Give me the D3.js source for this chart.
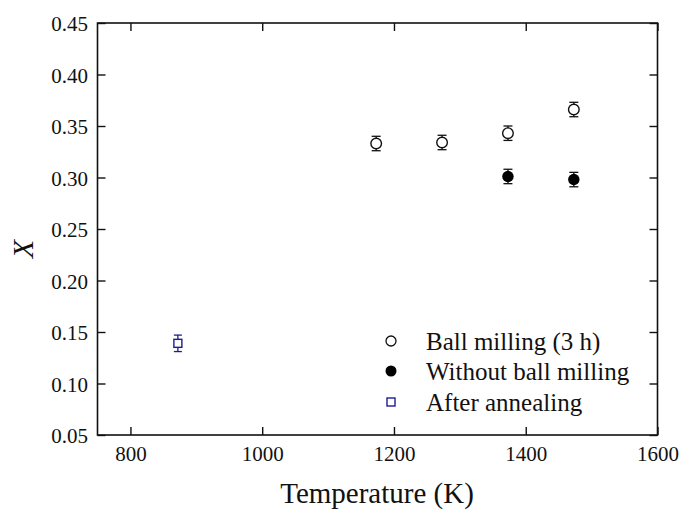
<!DOCTYPE html>
<html>
<head>
<meta charset="utf-8">
<script src="https://cdn.jsdelivr.net/npm/d3@7/dist/d3.min.js"></script>
<style>
  html, body { margin: 0; padding: 0; background: #fff; }
  svg { display: block; }
  svg text { fill: #111; }
</style>
</head>
<body>
<svg id="chart" width="681" height="511"></svg>
<script>
// Ball milling (3 h)
const milledTemp = [1173, 1273, 1373, 1473];
const milledX    = [0.333, 0.334, 0.343, 0.366];
const milledErr  = [0.007, 0.007, 0.007, 0.007];

// Without ball milling
const unmilledTemp = [1373, 1473];
const unmilledX    = [0.301, 0.298];
const unmilledErr  = [0.007, 0.007];

// After annealing
const annealTemp = [872];
const annealX    = [0.139];
const annealErr  = [0.008];

const xTicks = [800, 1000, 1200, 1400, 1600];
const yTicks = [0.05, 0.10, 0.15, 0.20, 0.25, 0.30, 0.35, 0.40, 0.45];
const legendLabels = ["Ball milling (3 h)", "Without ball milling", "After annealing"];

const serif = "Liberation Serif";
const svg = d3.select("#chart").attr("font-family", serif);
const plotL = 97.5, plotR = 657.5, plotT = 23, plotB = 435;

const x = d3.scaleLinear().domain([750, 1600]).range([plotL, plotR]);
const y = d3.scaleLinear().domain([0.05, 0.45]).range([plotB, plotT]);

const tickLen = 8;

// inward ticks on all four sides
function styleAxis(g, hideLabels) {
  g.attr("font-family", serif).attr("font-size", 21);
  g.select(".domain").remove();
  g.selectAll(".tick line").attr("stroke", "#111").attr("stroke-width", 1.4);
  g.selectAll(".tick text").attr("fill", "#111");
  if (hideLabels) g.selectAll(".tick text").remove();
}

svg.append("g").attr("transform", `translate(0,${plotB})`)
  .call(d3.axisBottom(x).tickValues(xTicks).tickFormat(d3.format("d")).tickSizeInner(-tickLen).tickSizeOuter(0).tickPadding(11))
  .call(g => styleAxis(g, false));

svg.append("g").attr("transform", `translate(0,${plotT})`)
  .call(d3.axisTop(x).tickValues(xTicks).tickSizeInner(-tickLen).tickSizeOuter(0))
  .call(g => styleAxis(g, true));

svg.append("g").attr("transform", `translate(${plotL},0)`)
  .call(d3.axisLeft(y).tickValues(yTicks).tickFormat(d3.format(".2f")).tickSizeInner(-tickLen).tickSizeOuter(0).tickPadding(9.5))
  .call(g => styleAxis(g, false))
  .call(g => g.selectAll(".tick text").attr("dy", "0.38em"));

svg.append("g").attr("transform", `translate(${plotR},0)`)
  .call(d3.axisRight(y).tickValues(yTicks).tickSizeInner(-tickLen).tickSizeOuter(0))
  .call(g => styleAxis(g, true));

// frame
svg.append("rect")
  .attr("x", plotL).attr("y", plotT)
  .attr("width", plotR - plotL).attr("height", plotB - plotT)
  .attr("fill", "none").attr("stroke", "#111").attr("stroke-width", 1.6);

// error bars with caps
function errorBars(temps, vals, errs, color, capW) {
  const g = svg.append("g").attr("stroke", color).attr("stroke-width", 1.3);
  temps.forEach((t, i) => {
    const cx = x(t), y0 = y(vals[i] - errs[i]), y1 = y(vals[i] + errs[i]);
    g.append("line").attr("x1", cx).attr("x2", cx).attr("y1", y0).attr("y2", y1);
    g.append("line").attr("x1", cx - capW / 2).attr("x2", cx + capW / 2).attr("y1", y0).attr("y2", y0);
    g.append("line").attr("x1", cx - capW / 2).attr("x2", cx + capW / 2).attr("y1", y1).attr("y2", y1);
  });
}

errorBars(milledTemp, milledX, milledErr, "#111", 9);
errorBars(unmilledTemp, unmilledX, unmilledErr, "#111", 9);
errorBars(annealTemp, annealX, annealErr, "#1c1c96", 8);

const r = 5.3;
svg.append("g").selectAll("circle").data(milledTemp).join("circle")
  .attr("cx", d => x(d)).attr("cy", (d, i) => y(milledX[i])).attr("r", r)
  .attr("fill", "#fff").attr("stroke", "#111").attr("stroke-width", 1.4);

svg.append("g").selectAll("circle").data(unmilledTemp).join("circle")
  .attr("cx", d => x(d)).attr("cy", (d, i) => y(unmilledX[i])).attr("r", r + 0.4)
  .attr("fill", "#000");

const sq = 8;
svg.append("g").selectAll("rect").data(annealTemp).join("rect")
  .attr("x", d => x(d) - sq / 2).attr("y", (d, i) => y(annealX[i]) - sq / 2)
  .attr("width", sq).attr("height", sq)
  .attr("fill", "#fff").attr("stroke", "#1c1c96").attr("stroke-width", 1.4);

// legend
const legX = 391, legY = [341, 371, 402], legTextX = 426;
const leg = svg.append("g");
leg.append("circle").attr("cx", legX).attr("cy", legY[0]).attr("r", 5)
  .attr("fill", "#fff").attr("stroke", "#111").attr("stroke-width", 1.3);
leg.append("circle").attr("cx", legX).attr("cy", legY[1]).attr("r", 5.5).attr("fill", "#000");
leg.append("rect").attr("x", legX - 4).attr("y", legY[2] - 4).attr("width", 8).attr("height", 8)
  .attr("fill", "#fff").attr("stroke", "#1c1c96").attr("stroke-width", 1.4);
leg.selectAll("text").data(legendLabels).join("text")
  .attr("x", legTextX).attr("y", (d, i) => legY[i]).attr("dy", "0.35em")
  .attr("font-size", 25).text(d => d);

// axis titles
svg.append("text").attr("x", (plotL + plotR) / 2 - 0.5).attr("y", 503)
  .attr("text-anchor", "middle").attr("font-size", 29).text("Temperature (K)");

svg.append("text").attr("transform", "translate(33,249) rotate(-90)")
  .attr("text-anchor", "middle").attr("font-size", 30).attr("font-style", "italic").text("X");
</script>
</body>
</html>
